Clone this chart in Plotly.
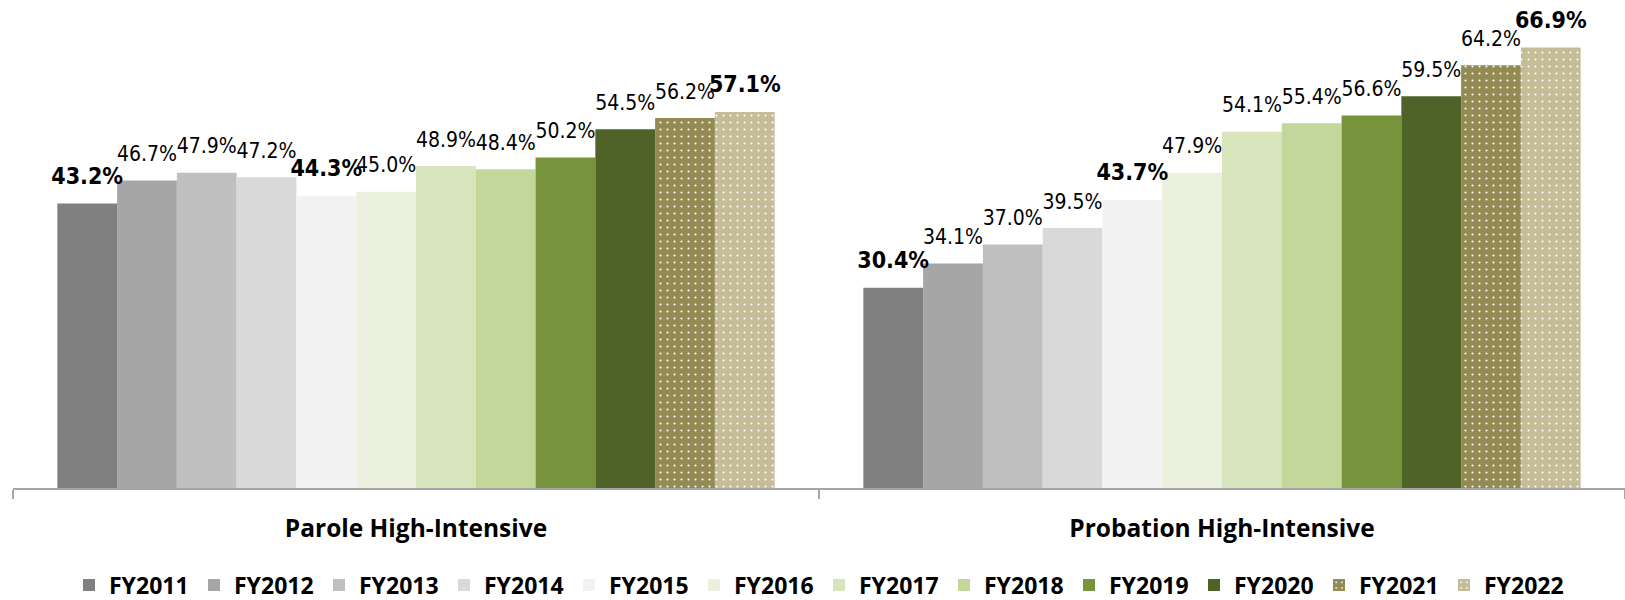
import plotly.graph_objects as go

categories = ["Parole High-Intensive", "Probation High-Intensive"]
years = ["FY2011", "FY2012", "FY2013", "FY2014", "FY2015", "FY2016",
         "FY2017", "FY2018", "FY2019", "FY2020", "FY2021", "FY2022"]
parole = [43.2, 46.7, 47.9, 47.2, 44.3, 45.0, 48.9, 48.4, 50.2, 54.5, 56.2, 57.1]
probation = [30.4, 34.1, 37.0, 39.5, 43.7, 47.9, 54.1, 55.4, 56.6, 59.5, 64.2, 66.9]
colors = ["#808080", "#A6A6A6", "#BFBFBF", "#D9D9D9", "#F2F2F2", "#EBF1DE",
          "#D8E4BC", "#C4D79B", "#77933C", "#4F6228", "#948A54", "#C4BD97"]
dotted = ["FY2021", "FY2022"]
bold_years = ["FY2011", "FY2015", "FY2022"]

LABEL_FONT = "Liberation Sans Narrow, Arial Narrow, DejaVu Sans Condensed, sans-serif"
MAIN_FONT = "Open Sans, Liberation Sans, sans-serif"

fig = go.Figure()
for i, yr in enumerate(years):
    vals = [parole[i], probation[i]]
    marker = dict(color=colors[i], line=dict(width=0))
    if yr in dotted:
        marker["pattern"] = dict(shape=".", fgcolor="white", bgcolor=colors[i],
                                 size=7, solidity=0.07, fillmode="replace")
    fig.add_trace(go.Bar(
        x=categories, y=vals, name=yr, marker=marker,
        offsetgroup=str(i), hoverinfo="skip",
    ))
for i, yr in enumerate(years):
    vals = [parole[i], probation[i]]
    isb = yr in bold_years
    txt = [(f"<b>{v:.1f}%</b>" if isb else f"{v:.1f}%") for v in vals]
    fig.add_trace(go.Scatter(
        x=categories, y=vals, mode="markers+text", text=txt,
        textposition="top center",
        textfont=dict(family=LABEL_FONT, size=23 if isb else 21, color="black"),
        marker=dict(size=21, opacity=0, color="white"),
        showlegend=False, hoverinfo="skip", cliponaxis=False,
        offsetgroup=str(i),
    ))

fig.update_layout(
    width=1625, height=600,
    margin=dict(l=13, r=0, t=14, b=112, autoexpand=False),
    plot_bgcolor="white", paper_bgcolor="white",
    barmode="group", bargap=0.11, bargroupgap=0,
    scattermode="group", scattergap=0.11,
    showlegend=True,
    legend=dict(orientation="h", x=0.5, xanchor="center", y=-0.205, yanchor="middle",
                font=dict(family=MAIN_FONT, size=23, color="black", weight="bold"),
                entrywidth=80, entrywidthmode="pixels", traceorder="normal"),
    xaxis=dict(showline=True, linecolor="#A6A6A6", linewidth=2,
               ticks="outside", tickson="boundaries", ticklen=9, tickwidth=2,
               tickcolor="#A6A6A6", ticklabelstandoff=18,
               tickfont=dict(family=MAIN_FONT, size=24.5, color="black", weight="bold"),
               showgrid=False, fixedrange=True),
    yaxis=dict(range=[0, 72], visible=False, showgrid=False, fixedrange=True),
)

fig.write_html("out.html", config={"displayModeBar": False},
               post_script="document.body.style.margin='0';document.body.style.overflow='hidden';")
